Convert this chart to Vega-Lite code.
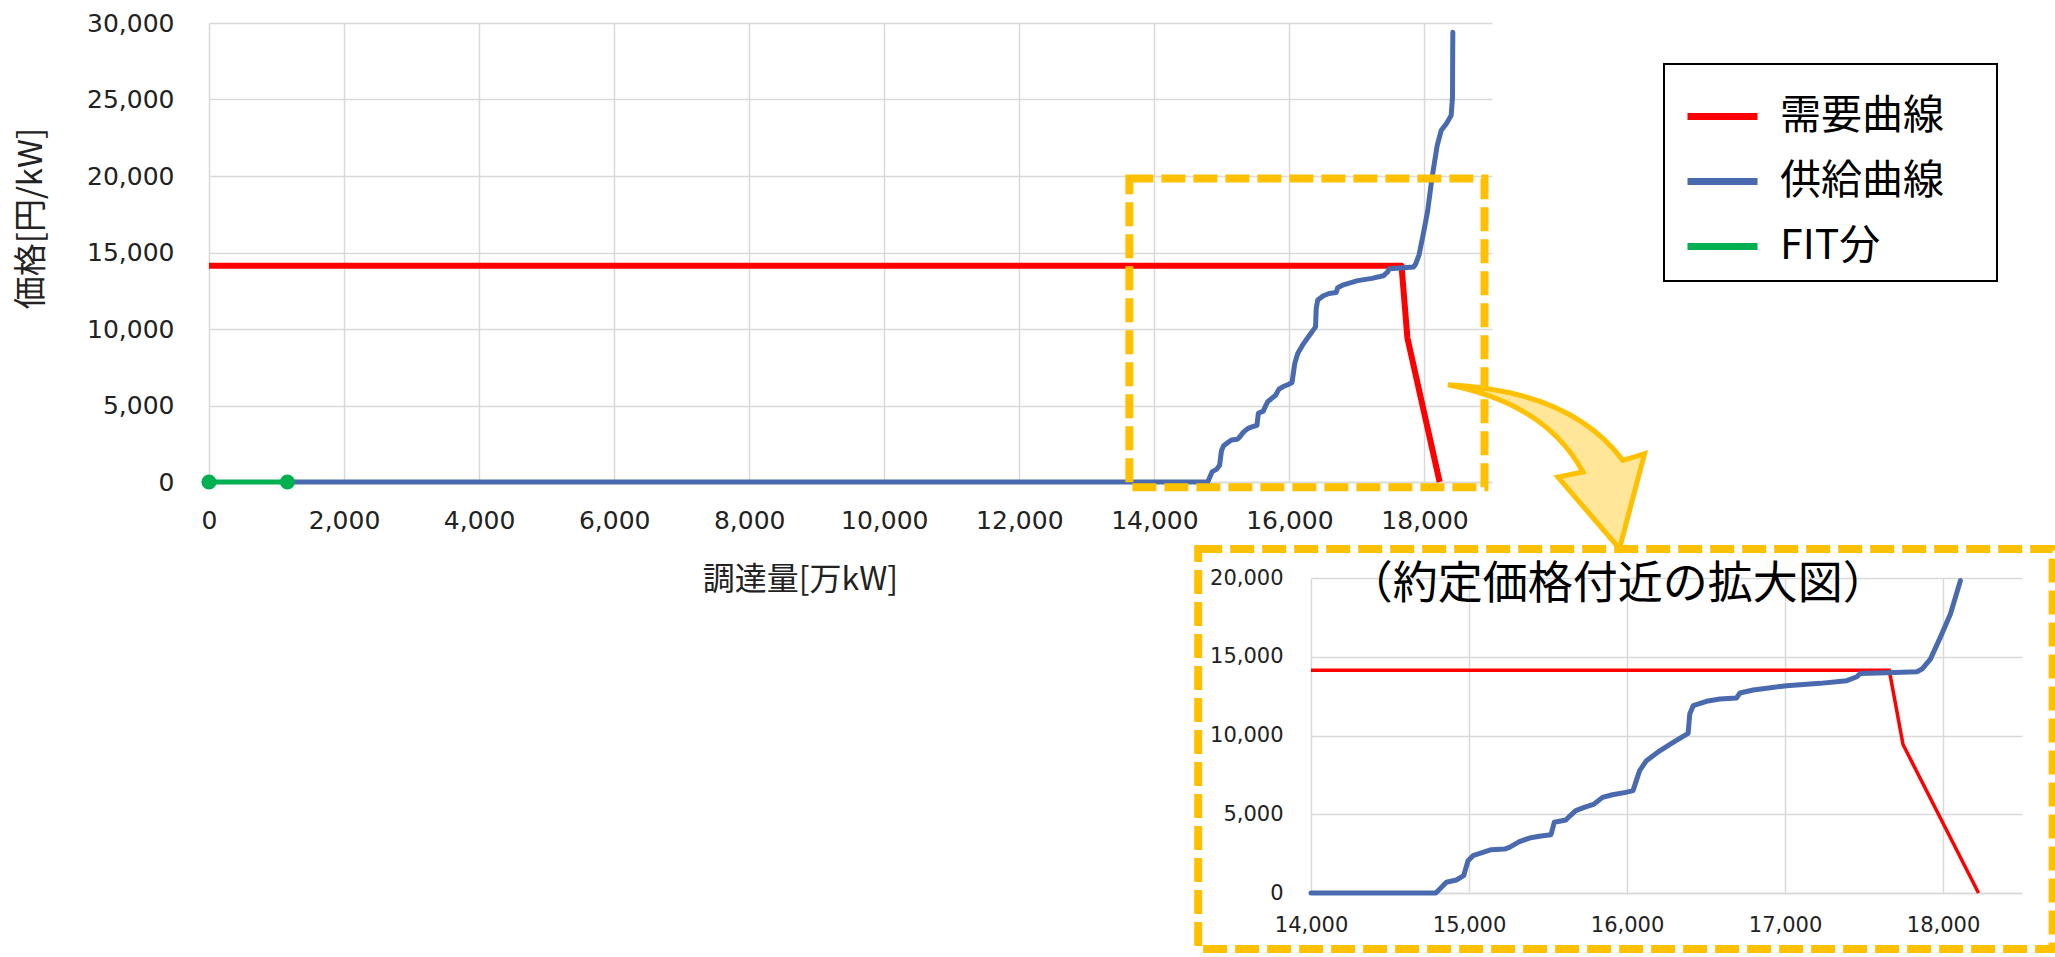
{
  "$schema": "https://vega.github.io/schema/vega-lite/v6.json",
  "autosize": {"type": "pad"},
  "padding": {"left": 14, "top": 11, "right": 0, "bottom": 0},
  "background": "white",
  "config": {
    "view": {"stroke": null},
    "axis": {
      "gridColor": "#D9D9D9",
      "gridWidth": 1.5,
      "ticks": false,
      "tickSize": 0,
      "domain": false,
      "labelFont": "DejaVu Sans",
      "labelColor": "#222222",
      "labelFlush": false,
      "labelOverlap": false,
      "titleFont": "Noto Sans CJK JP",
      "titleFontWeight": "normal",
      "titleColor": "#222222"
    },
    "legend": {
      "orient": "none",
      "legendX": 1455,
      "legendY": 41,
      "padding": 14,
      "symbolOffset": 6,
      "fillColor": "white",
      "symbolType": "stroke",
      "symbolSize": 4900,
      "symbolStrokeWidth": 7,
      "labelFont": "Noto Sans CJK JP",
      "labelFontSize": 41,
      "labelColor": "#000000",
      "labelOffset": 19,
      "rowPadding": 6,
      "labelLimit": 0,
      "titleOrient": "right",
      "titleFontSize": 16,
      "titlePadding": 39
    }
  },
  "datasets": {
    "curves": [
      {"series": "需要曲線", "x": 0, "y": 14137},
      {"series": "需要曲線", "x": 14000, "y": 14137},
      {"series": "需要曲線", "x": 17660, "y": 14137},
      {"series": "需要曲線", "x": 17747, "y": 9425},
      {"series": "需要曲線", "x": 18225, "y": 0},
      {"series": "FIT分", "x": 0, "y": 0},
      {"series": "FIT分", "x": 1161, "y": 0},
      {"series": "供給曲線", "x": 1161, "y": 0},
      {"series": "供給曲線", "x": 14000, "y": 0},
      {"series": "供給曲線", "x": 14790, "y": 0},
      {"series": "供給曲線", "x": 14857, "y": 680},
      {"series": "供給曲線", "x": 14920, "y": 825},
      {"series": "供給曲線", "x": 14966, "y": 1100},
      {"series": "供給曲線", "x": 14994, "y": 2050},
      {"series": "供給曲線", "x": 15025, "y": 2370},
      {"series": "供給曲線", "x": 15088, "y": 2580},
      {"series": "供給曲線", "x": 15141, "y": 2750},
      {"series": "供給曲線", "x": 15225, "y": 2790},
      {"series": "供給曲線", "x": 15256, "y": 2900},
      {"series": "供給曲線", "x": 15319, "y": 3260},
      {"series": "供給曲線", "x": 15382, "y": 3490},
      {"series": "供給曲線", "x": 15445, "y": 3600},
      {"series": "供給曲線", "x": 15519, "y": 3700},
      {"series": "供給曲線", "x": 15540, "y": 4490},
      {"series": "供給曲線", "x": 15613, "y": 4630},
      {"series": "供給曲線", "x": 15634, "y": 4850},
      {"series": "供給曲線", "x": 15676, "y": 5230},
      {"series": "供給曲線", "x": 15729, "y": 5440},
      {"series": "供給曲線", "x": 15792, "y": 5650},
      {"series": "供給曲線", "x": 15845, "y": 6070},
      {"series": "供給曲線", "x": 15908, "y": 6240},
      {"series": "供給曲線", "x": 15992, "y": 6390},
      {"series": "供給曲線", "x": 16038, "y": 6500},
      {"series": "供給曲線", "x": 16080, "y": 7770},
      {"series": "供給曲線", "x": 16123, "y": 8400},
      {"series": "供給曲線", "x": 16207, "y": 9030},
      {"series": "供給曲線", "x": 16292, "y": 9560},
      {"series": "供給曲線", "x": 16387, "y": 10140},
      {"series": "供給曲線", "x": 16397, "y": 11360},
      {"series": "供給曲線", "x": 16419, "y": 11890},
      {"series": "供給曲線", "x": 16503, "y": 12170},
      {"series": "供給曲線", "x": 16588, "y": 12320},
      {"series": "供給曲線", "x": 16693, "y": 12380},
      {"series": "供給曲線", "x": 16715, "y": 12700},
      {"series": "供給曲線", "x": 16799, "y": 12890},
      {"series": "供給曲線", "x": 17011, "y": 13160},
      {"series": "供給曲線", "x": 17222, "y": 13310},
      {"series": "供給曲線", "x": 17391, "y": 13480},
      {"series": "供給曲線", "x": 17455, "y": 13730},
      {"series": "供給曲線", "x": 17476, "y": 13940},
      {"series": "供給曲線", "x": 17645, "y": 13990},
      {"series": "供給曲線", "x": 17835, "y": 14050},
      {"series": "供給曲線", "x": 17867, "y": 14220},
      {"series": "供給曲線", "x": 17920, "y": 14850},
      {"series": "供給曲線", "x": 17983, "y": 16230},
      {"series": "供給曲線", "x": 18047, "y": 17710},
      {"series": "供給曲線", "x": 18110, "y": 19830},
      {"series": "供給曲線", "x": 18188, "y": 21990},
      {"series": "供給曲線", "x": 18247, "y": 22970},
      {"series": "供給曲線", "x": 18321, "y": 23400},
      {"series": "供給曲線", "x": 18395, "y": 23950},
      {"series": "供給曲線", "x": 18415, "y": 25150},
      {"series": "供給曲線", "x": 18418, "y": 28090},
      {"series": "供給曲線", "x": 18420, "y": 29400}
    ],
    "box": [{"x": 13630, "x2": 18889, "y": -340, "y2": 19843}],
    "arrow": [{"x": 19803, "y": 999}],
    "frame": [{"x": 13286, "x2": 18694, "y": -3556, "y2": 21841}],
    "label": [{"x": 15941, "y": 19556, "text": "（約定価格付近の拡大図）"}]
  },
  "bounds": "flush",
  "spacing": 96,
  "vconcat": [
    {
      "width": 1283,
      "height": 459,
      "encoding": {
        "x": {
          "field": "x", "type": "quantitative",
          "scale": {"domain": [0, 19000], "nice": false, "zero": false},
          "axis": {
            "values": [0, 2000, 4000, 6000, 8000, 10000, 12000, 14000, 16000, 18000],
            "format": ",.0f",
            "labelFontSize": 25,
            "labelPadding": 26,
            "domain": true,
            "domainColor": "#D9D9D9",
            "domainWidth": 1.5,
            "title": "調達量[万kW]",
            "titleFontSize": 32,
            "titleX": 591,
            "titleY": 97,
            "titleAlign": "center",
            "titleBaseline": "middle"
          }
        },
        "y": {
          "field": "y", "type": "quantitative",
          "scale": {"domain": [0, 30000], "nice": false, "zero": false},
          "axis": {
            "values": [0, 5000, 10000, 15000, 20000, 25000, 30000],
            "format": ",.0f",
            "labelFontSize": 25,
            "labelPadding": 35,
            "title": "価格[円/kW]",
            "titleFontSize": 33,
            "titleAngle": -90,
            "titleX": -178,
            "titleY": 195,
            "titleAlign": "center",
            "titleBaseline": "middle"
          }
        }
      },
      "layer": [
        {
          "data": {"name": "arrow"},
          "mark": {
            "type": "point",
            "shape": "M-0.983,-0.82Q0.25,-0.76,0.767,-0.063L0.983,-0.13L0.733,0.82L0.117,0.103L0.367,0.053Q0,-0.63,-0.983,-0.82Z",
            "size": 40000,
            "filled": true,
            "fill": "#FFE699",
            "stroke": "#FFC000",
            "strokeWidth": 5,
            "strokeJoin": "miter",
            "opacity": 1,
            "fillOpacity": 1,
            "strokeOpacity": 1
          }
        },
        {
          "data": {"name": "curves"},
          "transform": [{"filter": "datum.series === '需要曲線'"}],
          "mark": {"type": "line", "strokeWidth": 6, "strokeJoin": "round"},
          "encoding": {
            "color": {
              "field": "series", "type": "nominal",
              "scale": {"domain": ["需要曲線", "供給曲線", "FIT分"], "range": ["#FF0000", "#4A6AB0", "#00B050"]},
              "legend": {
                "title": "　",
                "encode": {
                  "legend": {"update": {"stroke": {"value": "#000000"}, "strokeWidth": {"value": 2}}},
                  "symbols": {"update": {"stroke": {"signal": "datum.value === '供給曲線' ? '#1158C8' : (datum.value === '需要曲線' ? '#FF0000' : '#00B050')"}}}
                }
              }
            }
          }
        },
        {
          "data": {"name": "curves"},
          "transform": [{"filter": "datum.series === '供給曲線'"}],
          "mark": {"type": "line", "strokeWidth": 5, "strokeJoin": "round", "strokeCap": "round"},
          "encoding": {
            "color": {
              "field": "series", "type": "nominal",
              "scale": {"domain": ["需要曲線", "供給曲線", "FIT分"], "range": ["#FF0000", "#4A6AB0", "#00B050"]},
              "legend": {
                "title": "　",
                "encode": {
                  "legend": {"update": {"stroke": {"value": "#000000"}, "strokeWidth": {"value": 2}}},
                  "symbols": {"update": {"stroke": {"signal": "datum.value === '供給曲線' ? '#1158C8' : (datum.value === '需要曲線' ? '#FF0000' : '#00B050')"}}}
                }
              }
            }
          }
        },
        {
          "data": {"name": "curves"},
          "transform": [{"filter": "datum.series === 'FIT分'"}],
          "mark": {"type": "line", "strokeWidth": 5},
          "encoding": {
            "color": {
              "field": "series", "type": "nominal",
              "scale": {"domain": ["需要曲線", "供給曲線", "FIT分"], "range": ["#FF0000", "#4A6AB0", "#00B050"]},
              "legend": {
                "title": "　",
                "encode": {
                  "legend": {"update": {"stroke": {"value": "#000000"}, "strokeWidth": {"value": 2}}},
                  "symbols": {"update": {"stroke": {"signal": "datum.value === '供給曲線' ? '#1158C8' : (datum.value === '需要曲線' ? '#FF0000' : '#00B050')"}}}
                }
              }
            }
          }
        },
        {
          "data": {"name": "curves"},
          "transform": [{"filter": "datum.series === 'FIT分'"}],
          "mark": {"type": "point", "shape": "circle", "filled": true, "color": "#00B050", "size": 230, "opacity": 1}
        },
        {
          "data": {"name": "box"},
          "mark": {"type": "rect", "filled": false, "stroke": "#FFC000", "strokeWidth": 8, "strokeDash": [24, 8], "fill": null},
          "encoding": {
            "x2": {"field": "x2"},
            "y2": {"field": "y2"}
          }
        }
      ]
    },
    {
      "bounds": "flush",
      "spacing": 10,
      "hconcat": [
        {
          "width": 1092,
          "height": 10,
          "data": {"values": [{}]},
          "mark": {"type": "text", "text": ""}
        },
        {
          "width": 711,
          "height": 315,
          "encoding": {
            "x": {
              "field": "x", "type": "quantitative",
              "scale": {"domain": [14000, 18500], "nice": false, "zero": false},
              "axis": {
                "values": [14000, 15000, 16000, 17000, 18000],
                "format": ",.0f",
                "labelFontSize": 21,
                "labelPadding": 21,
                "domain": true,
                "domainColor": "#D9D9D9",
                "domainWidth": 1.5,
                "title": null
              }
            },
            "y": {
              "field": "y", "type": "quantitative",
              "scale": {"domain": [0, 20000], "nice": false, "zero": false},
              "axis": {
                "values": [0, 5000, 10000, 15000, 20000],
                "format": ",.0f",
                "labelFontSize": 21,
                "labelPadding": 28,
                "title": null
              }
            }
          },
          "layer": [
            {
              "data": {"name": "curves"},
              "transform": [{"filter": "datum.series === '需要曲線' && datum.x >= 14000"}],
              "mark": {"type": "line", "color": "#FF0000", "strokeWidth": 3.5}
            },
            {
              "data": {"name": "curves"},
              "transform": [{"filter": "datum.series === '供給曲線' && datum.x >= 14000 && datum.y <= 20000"}],
              "mark": {"type": "line", "color": "#4A6AB0", "strokeWidth": 5, "strokeJoin": "round", "strokeCap": "round"}
            },
            {
              "data": {"name": "frame"},
              "mark": {"type": "rect", "filled": false, "stroke": "#FFC000", "strokeWidth": 8, "strokeDash": [24, 8], "fill": null},
              "encoding": {
                "x2": {"field": "x2"},
                "y2": {"field": "y2"}
              }
            },
            {
              "data": {"name": "label"},
              "mark": {"type": "text", "font": "Noto Sans CJK JP", "fontSize": 45, "align": "center", "baseline": "middle", "color": "#000000"},
              "encoding": {
                "text": {"field": "text", "type": "nominal"}
              }
            }
          ]
        }
      ]
    }
  ]
}
